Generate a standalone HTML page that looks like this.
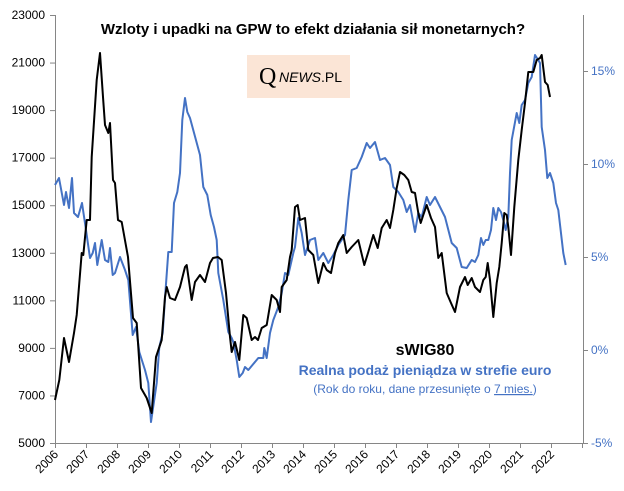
<!DOCTYPE html>
<html><head><meta charset="utf-8"><style>
body{margin:0;background:#fff;}
svg{display:block;font-family:"Liberation Sans",sans-serif;}
</style></head><body>
<svg id="s" width="624" height="491" viewBox="0 0 624 491" xmlns="http://www.w3.org/2000/svg">
<rect width="624" height="491" fill="#fff"/>
<g id="ax" stroke="#868686" stroke-width="1" fill="none">
<line x1="55.5" y1="15" x2="55.5" y2="443"/>
<line x1="583.5" y1="15" x2="583.5" y2="443"/>
<line x1="55" y1="443.5" x2="583" y2="443.5"/>
</g>
<g id="lbl" font-size="12"></g>
<text x="313" y="34" text-anchor="middle" font-size="15" font-weight="bold" fill="#000">Wzloty i upadki  na GPW to efekt działania  sił monetarnych?</text>
<rect x="247" y="55" width="103" height="43" fill="#fbe5d6"/>
<text x="259" y="84" font-family="Liberation Serif,serif" font-size="24" fill="#000">Q</text>
<text x="279" y="82" font-size="14" fill="#000"><tspan font-style="italic">NEWS</tspan>.PL</text>
<text x="425" y="355" text-anchor="middle" font-size="16" font-weight="bold" fill="#000">sWIG80</text>
<text x="425" y="375" text-anchor="middle" font-size="14" font-weight="bold" fill="#4472c4">Realna podaż pieniądza w strefie euro</text>
<text x="425" y="393" text-anchor="middle" font-size="12" fill="#4472c4">(Rok do roku, dane przesunięte o <tspan text-decoration="underline">7 mies.</tspan>)</text>
<polyline id="blue" fill="none" stroke="#4472c4" stroke-width="2" stroke-linejoin="round"/>
<polyline id="black" fill="none" stroke="#000" stroke-width="2" stroke-linejoin="round"/>
</svg>
<script>
var NS="http://www.w3.org/2000/svg",ax=document.getElementById('ax'),lb=document.getElementById('lbl');
function X(t){return 55+(t-2006)*31;}
function add(tag,attrs,txt,par){var e=document.createElementNS(NS,tag);for(var k in attrs)e.setAttribute(k,attrs[k]);if(txt)e.textContent=txt;(par||lb).appendChild(e);return e;}
for(var v=5000;v<=23000;v+=2000){var y=443-(v-5000)/18000*428;add('line',{x1:50,x2:55,y1:y+.5,y2:y+.5},null,ax);add('text',{x:45,y:y+4,'text-anchor':'end',fill:'#000'},''+v);}
var pl=['-5%','0%','5%','10%','15%'];for(var i=0;i<5;i++){var y=443-i*93;add('line',{x1:583,x2:588,y1:y+.5,y2:y+.5},null,ax);add('text',{x:591,y:y+4,fill:'#4472c4'},pl[i]);}
for(var yr=2006;yr<=2023;yr++){var x=X(yr);add('line',{x1:x+.5,x2:x+.5,y1:443,y2:448},null,ax);if(yr<2023){add('text',{x:x+4,y:455,'text-anchor':'end',transform:'rotate(-45 '+(x+4)+' 455)',fill:'#000'},''+yr);}}
var bk=[55,400,59.3,380,64,338,69,362,74,333,76.7,315,81.7,253,83.3,255,86.7,220,90,220,91.7,157,96.7,80,100,53,103,97,105,125,108.3,133,110,123,113,180,115,183,118,220,121.7,222,128,257,133,318,136.7,323,141,388,146.7,398,151.7,413,156,357,161.7,340,165,297,166.7,287,170,298,175,300,180,287,185,267,186.7,265,191.7,300,195,282,200,275,205,282,210,263,213,258,218,257,221.7,260,226,293,230,337,231.7,352,235,342,239.3,360,243.3,315,246.7,318,251.7,340,255,337,258,340,261.7,328,266.7,325,271.7,295,276.7,300,280,312,281.7,287,286.7,280,290,257,291.7,250,295,207,297.7,205,300,220,305,218,308.3,250,313.3,255,318.3,283,323.3,263,326.7,270,331,273,335,253,338.3,243,343.3,235,346.7,253,351.7,247,358.3,240,364.3,265,368.3,252,373.3,235,377.7,248,381.7,228,386.7,220,390,228,393.3,210,396.7,188,400,172,404.3,175,408.3,180,411.7,192,415,193,418.3,213,420.7,223,423.3,215,426.7,205,431,218,435,227,438.3,258,441.7,253,446.7,293,451,303,455,312,460,287,465,277,467.7,285,471.7,278,475,287,480,292,483.3,280,485.7,277,487.7,263,490,280,493.3,317,496.7,283,499.3,267,501.7,243,504.3,213,506.7,215,508.3,227,511,255,514.3,207,518.3,160,521.7,130,525,103,528.3,72,533.3,72,536.7,60,540,58,541.7,55,545,82,547.7,85,550,97];
var bl=[55,185,59,178,64,205,66,192,69,208,72,178,74,213,78,217,82,203,86,230,90,258,92.7,253,95,243,97.3,265,101.7,240,105,260,108.3,262,110,248,112.7,275,115,273,120,257,125,270,128.3,280,132.7,335,136,327,139.3,352,145,370,148.3,383,151,422,156.7,383,159.3,347,162.7,333,165,298,168.3,252,171.7,252,174,203,177.3,192,180,173,182.3,120,185,98,187.3,112,190,118,200,155,203.3,187,207.3,195,210.7,215,214,227,216.7,240,218.3,273,223.3,300,228.3,332,231.7,338,233.3,342,236.7,360,239.3,377,242.7,373,245,367,248.3,370,258.3,358,263.3,358,264.3,348,266.7,358,270,333,273.3,320,278.3,307,281.7,293,285,273,288.3,275,293.3,253,295,247,298.3,218,301.7,233,305,255,310,240,315,238,318.3,260,323.3,253,328.3,263,333.3,255,338.3,245,345,235,348.3,200,351.7,170,356.7,168,361.7,157,366.7,143,370,148,375,142,380,160,385,158,390,165,393.3,187,398.3,192,403.3,200,406.7,212,410,205,415,232,418.3,213,421.7,217,426.7,197,430,205,435,197,440,207,445,217,451.7,243,456.7,248,461.7,267,466.7,268,471.7,260,475,262,478.3,255,481,238,483.3,245,485.7,240,488.3,240,491,230,493.3,208,496,220,498.3,208,501,212,503.3,220,505.7,230,508.3,217,510,173,511.7,140,516.7,113,519.3,123,521.7,105,525,100,528.3,83,531.7,77,535,55,538.3,60,540,63,541.7,127,545,150,547.3,178,550,173,553.3,183,556,203,558.3,210,563.3,253,565.7,265];
document.getElementById('black').setAttribute('points',bk.join(' '));
document.getElementById('blue').setAttribute('points',bl.join(' '));
</script>
</body></html>
